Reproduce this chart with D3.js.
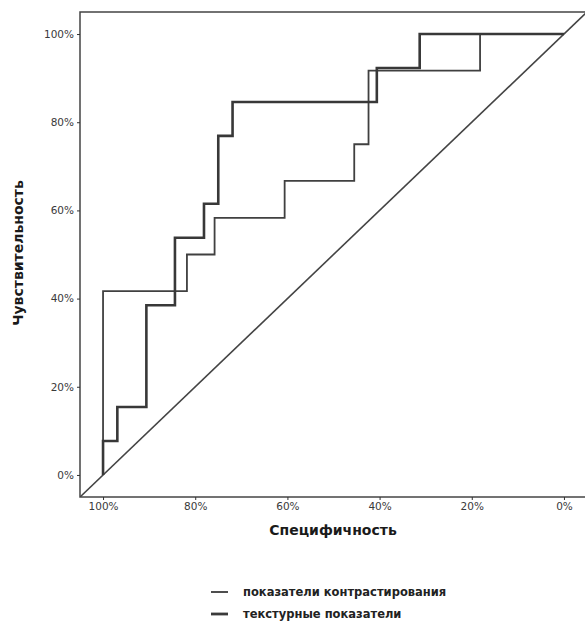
<!DOCTYPE html>
<html>
<head>
<meta charset="utf-8">
<script src="https://cdn.jsdelivr.net/npm/d3@7"></script>
<style>
  body { margin: 0; background: #fff; }
  text { font-family: "DejaVu Sans", Verdana, sans-serif; }
</style>
</head>
<body>
<div id="chart"></div>
<script>
// ROC points (specificity %, sensitivity %)
const contrastSpec = [100, 100, 81.8, 75.8, 60.6, 45.5, 42.4, 18.2, 0];
const contrastSens = [0, 41.7, 50.0, 58.3, 66.7, 75.0, 91.7, 100, 100];
const textureSpec = [100, 100, 96.9, 90.6, 84.4, 78.1, 75.0, 71.9, 40.6, 31.3, 0];
const textureSens = [0, 7.7, 15.4, 38.5, 53.8, 61.5, 76.9, 84.6, 92.3, 100, 100];

const tickValues = [0, 20, 40, 60, 80, 100];
const seriesNames = ["показатели контрастирования", "текстурные показатели"];

// panel geometry
const W = 585, H = 623;
const panel = { left: 80, right: 587, top: 12, bottom: 497 };

const svg = d3.select("#chart")
    .append("svg")
    .attr("width", W)
    .attr("height", H);

// x is reversed: 100% on the left
const x = d3.scaleLinear()
    .domain([105, -5])
    .range([panel.left, panel.right]);

const y = d3.scaleLinear()
    .domain([-5, 105])
    .range([panel.bottom, panel.top]);

svg.append("clipPath").attr("id", "clip")
    .append("rect")
    .attr("x", panel.left)
    .attr("y", panel.top)
    .attr("width", panel.right - panel.left)
    .attr("height", panel.bottom - panel.top);

const plot = svg.append("g").attr("clip-path", "url(#clip)");

// diagonal reference line
plot.append("line")
    .attr("x1", x(105)).attr("y1", y(-5))
    .attr("x2", x(-5)).attr("y2", y(105))
    .attr("stroke", "#444")
    .attr("stroke-width", 1.6);

const line = d3.line()
    .x(d => x(d[0]))
    .y(d => y(d[1]))
    .curve(d3.curveStepAfter);

const contrast = contrastSpec.map((s, i) => [s, contrastSens[i]]);
const texture = textureSpec.map((s, i) => [s, textureSens[i]]);

plot.append("path")
    .datum(contrast)
    .attr("d", line)
    .attr("fill", "none")
    .attr("stroke", "#404040")
    .attr("stroke-width", 1.8);

plot.append("path")
    .datum(texture)
    .attr("d", line)
    .attr("fill", "none")
    .attr("stroke", "#383838")
    .attr("stroke-width", 2.6);

// panel border
svg.append("rect")
    .attr("x", panel.left)
    .attr("y", panel.top)
    .attr("width", panel.right - panel.left)
    .attr("height", panel.bottom - panel.top)
    .attr("fill", "none")
    .attr("stroke", "#444")
    .attr("stroke-width", 1.5);

// axes
const fmt = d => d + "%";

const xAxis = svg.append("g")
    .attr("transform", `translate(0,${panel.bottom})`)
    .call(d3.axisBottom(x).tickValues(tickValues).tickFormat(fmt).tickSize(3).tickPadding(3));

const yAxis = svg.append("g")
    .attr("transform", `translate(${panel.left},0)`)
    .call(d3.axisLeft(y).tickValues(tickValues).tickFormat(fmt).tickSize(3).tickPadding(3));

[xAxis, yAxis].forEach(a => {
    a.select(".domain").remove();
    a.selectAll(".tick line").attr("stroke", "#333");
    a.selectAll(".tick text")
        .attr("fill", "#3a3a3a")
        .style("font-size", "10.5px")
        .style("font-family", "'DejaVu Sans', Verdana, sans-serif");
});

// axis titles
svg.append("text")
    .attr("x", 333)
    .attr("y", 535)
    .attr("text-anchor", "middle")
    .style("font-size", "14px")
    .style("font-weight", "bold")
    .attr("fill", "#1a1a1a")
    .text("Специфичность");

svg.append("text")
    .attr("transform", `translate(23,253) rotate(-90)`)
    .attr("text-anchor", "middle")
    .style("font-size", "14px")
    .style("font-weight", "bold")
    .attr("fill", "#1a1a1a")
    .text("Чувствительность");

// legend
const legend = svg.append("g").attr("transform", "translate(211,592)");
const widths = [1.8, 2.8];
seriesNames.forEach((name, i) => {
    const g = legend.append("g").attr("transform", `translate(0,${i * 22})`);
    g.append("line")
        .attr("x1", 0).attr("x2", 17)
        .attr("stroke", "#3a3a3a")
        .attr("stroke-width", widths[i]);
    g.append("text")
        .attr("x", 32)
        .attr("dy", "0.35em")
        .style("font-size", "11.5px")
        .style("font-weight", "bold")
        .attr("fill", "#222")
        .text(name);
});
</script>
</body>
</html>
